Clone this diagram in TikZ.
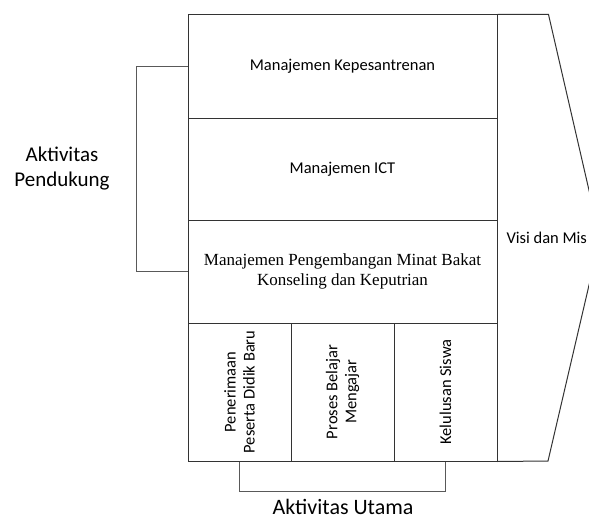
\documentclass[tikz,border=0pt]{standalone}
\usepackage{fontspec}
\setmainfont{Carlito}
\newfontfamily\timesfont{Liberation Serif}
\begin{document}
\begin{tikzpicture}[x=1pt,y=-1pt,
  cell/.style={draw=black!80,line width=1pt,minimum width=309pt,minimum height=103pt,inner sep=0pt,font=\fontsize{16.5}{19}\selectfont},
  colcell/.style={draw=black!80,line width=1pt,rotate=90,minimum width=138pt,minimum height=103pt,inner sep=0pt,align=center,font=\fontsize{16.5}{19}\selectfont},
  brace/.style={draw=black!65,line width=1pt},
  sidelabel/.style={align=center,font=\fontsize{21}{25}\selectfont}]
  \path[use as bounding box,clip] (0,0) rectangle (589,519);
  % support rows
  \node[cell] (kepes) at (342.5,66.5) {Manajemen Kepesantrenan};
  \node[cell,minimum height=102pt] (ict) at (342.5,169) {Manajemen ICT};
  \node[cell,align=center,font=\timesfont\fontsize{17}{20}\selectfont] (minat) at (342.5,271.5) {Manajemen Pengembangan Minat Bakat\\Konseling dan Keputrian};
  % main activities
  \node[colcell] (terima) at (239.5,392) {Penerimaan\\Peserta Didik Baru};
  \node[colcell] (proses) at (342.5,392) {Proses Belajar\\Mengajar};
  \node[colcell] (lulus) at (445.5,392) {Kelulusan Siswa};
  % margin arrow
  \coordinate (tip) at (600,238);
  \draw[black!80,line width=1pt] (kepes.north east) -- ++(51,0) -- (tip) -- ++(-52,223) -- (kepes.east |- lulus.west);
  \node[anchor=west,font=\fontsize{16.5}{19}\selectfont] (visi) at (503,238) {Visi dan Mis};
  % brackets
  \draw[brace] (kepes.west) -- ++(-51,0) |- (minat.west);
  \draw[brace] (terima.west) -- ++(0,30) -| (lulus.west);
  \node[sidelabel] (pendukung) at (62,169) {Aktivitas\\Pendukung};
  \node[sidelabel,font=\fontsize{22}{26}\selectfont,anchor=base,inner sep=0pt] (utama) at (343,514.5) {Aktivitas Utama};
\end{tikzpicture}
\end{document}
